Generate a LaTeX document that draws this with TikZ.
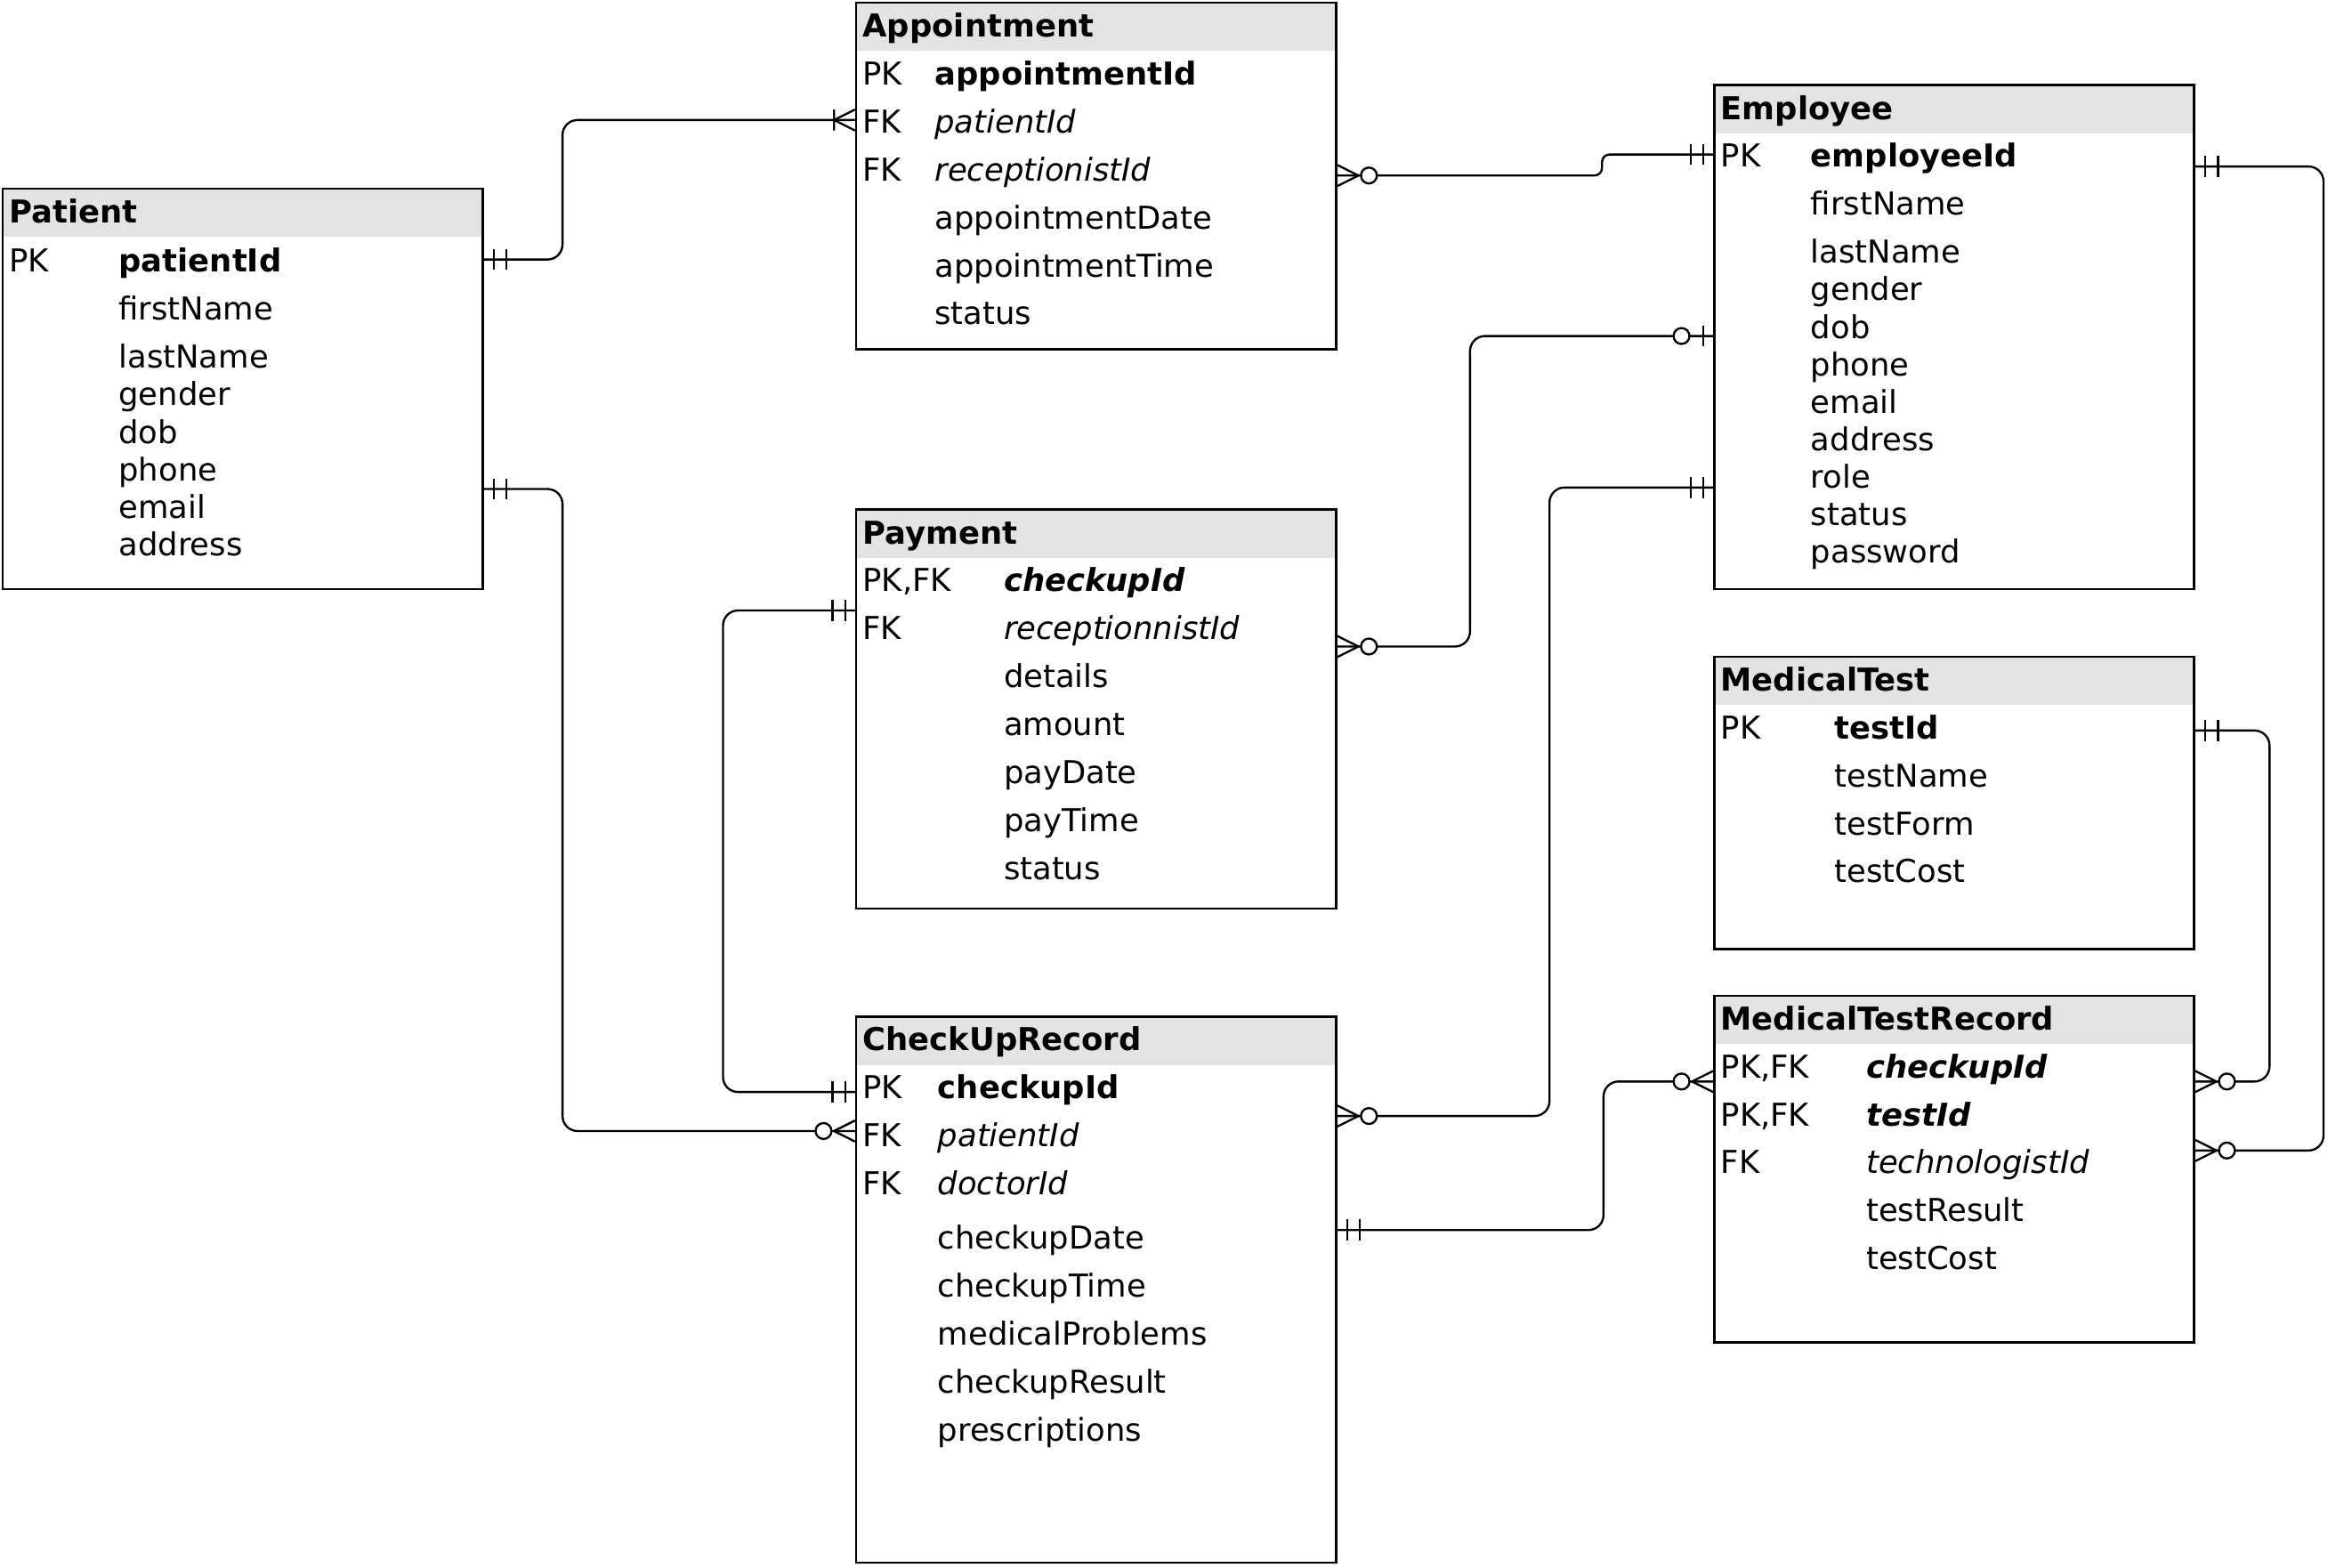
\documentclass[tikz,border=0pt]{standalone}
\usepackage{fontspec}
\setmainfont{DejaVu Sans}
\usetikzlibrary{calc}

\newcommand\erfont{\fontsize{21}{25}\selectfont}

\tikzset{
  tbl/.style={draw, line width=1.6pt, anchor=north west, minimum width=320pt, inner sep=0pt},
  hdr/.style={fill=black!11},
  ttl/.style={anchor=base west, inner sep=0pt, font=\erfont\bfseries},
  fld/.style={anchor=base west, inner sep=0pt, font=\erfont},
  rel/.style={line width=1.4pt, rounded corners=10pt},
  sym/.style={line width=1.4pt, sharp corners},
  pics/mone/.style={code={\draw[sym] (6.5,-7)--(6.5,7) (15,-7)--(15,7);}},
  pics/omany/.style={code={\draw[sym] (0,-7)--(14,0)--(0,7) (14,-7)--(14,7);}},
  pics/zmany/.style={code={\draw[sym] (0,-7)--(14,0)--(0,7); \draw[sym, fill=white] (21,0) circle (5.3pt);}},
  pics/zone/.style={code={\draw[sym] (6.5,-7)--(6.5,7); \draw[sym, fill=white] (21,0) circle (5.3pt);}}
}

\begin{document}
\begin{tikzpicture}[x=1pt, y=-1pt]
    \useasboundingbox (0,0) rectangle (1568,1045);

    % Patient
    \begin{scope}[shift={(1,125)}]
        \fill[hdr] (0,0) rectangle (320,33);
        \node[tbl, minimum height=267pt] (pat) at (0,0) {};
        \node[ttl] (pat-t) at (5,23.5) {Patient};
        \foreach \k/\f/\y [count=\i] in {PK/\textbf{patientId}/49, /firstName/81, /lastName/113,
            /gender/138, /dob/163, /phone/188, /email/213, /address/238} {
            \node[fld] (pat-k\i) at (5,\y+7.5) {\k};
            \node[fld] (pat-f\i) at (78,\y+7.5) {\f};
        }
    \end{scope}

    % Appointment
    \begin{scope}[shift={(570,1)}]
        \fill[hdr] (0,0) rectangle (320,33);
        \node[tbl, minimum height=231pt] (app) at (0,0) {};
        \node[ttl] (app-t) at (5,23.5) {Appointment};
        \foreach \k/\f/\y [count=\i] in {PK/\textbf{appointmentId}/48, FK/\textit{patientId}/80,
            FK/\textit{receptionistId}/112, /appointmentDate/144, /appointmentTime/176, /status/208} {
            \node[fld] (app-k\i) at (5,\y+7.5) {\k};
            \node[fld] (app-f\i) at (53,\y+7.5) {\f};
        }
    \end{scope}

    % Employee
    \begin{scope}[shift={(1142,56)}]
        \fill[hdr] (0,0) rectangle (320,33);
        \node[tbl, minimum height=336pt] (emp) at (0,0) {};
        \node[ttl] (emp-t) at (5,23.5) {Employee};
        \foreach \k/\f/\y [count=\i] in {PK/\textbf{employeeId}/48, /firstName/80, /lastName/112,
            /gender/137, /dob/162, /phone/187, /email/212, /address/237, /role/262,
            /status/287, /password/312} {
            \node[fld] (emp-k\i) at (5,\y+7.5) {\k};
            \node[fld] (emp-f\i) at (65,\y+7.5) {\f};
        }
    \end{scope}

    % Payment
    \begin{scope}[shift={(570,339)}]
        \fill[hdr] (0,0) rectangle (320,33);
        \node[tbl, minimum height=266pt] (pay) at (0,0) {};
        \node[ttl] (pay-t) at (5,23.5) {Payment};
        \foreach \k/\f/\y [count=\i] in {{PK,FK}/\textbf{\textit{checkupId}}/48,
            FK/\textit{receptionnistId}/80, /details/112, /amount/144, /payDate/176,
            /payTime/208, /status/240} {
            \node[fld] (pay-k\i) at (5,\y+7.5) {\k};
            \node[fld] (pay-f\i) at (99,\y+7.5) {\f};
        }
    \end{scope}

    % MedicalTest
    \begin{scope}[shift={(1142,437)}]
        \fill[hdr] (0,0) rectangle (320,33);
        \node[tbl, minimum height=195pt] (mt) at (0,0) {};
        \node[ttl] (mt-t) at (5,23.5) {MedicalTest};
        \foreach \k/\f/\y [count=\i] in {PK/\textbf{testId}/48, /testName/80, /testForm/112,
            /testCost/144} {
            \node[fld] (mt-k\i) at (5,\y+7.5) {\k};
            \node[fld] (mt-f\i) at (81,\y+7.5) {\f};
        }
    \end{scope}

    % CheckUpRecord
    \begin{scope}[shift={(570,677)}]
        \fill[hdr] (0,0) rectangle (320,33);
        \node[tbl, minimum height=364pt] (chk) at (0,0) {};
        \node[ttl] (chk-t) at (5,23.5) {CheckUpRecord};
        \foreach \k/\f/\y [count=\i] in {PK/\textbf{checkupId}/48, FK/\textit{patientId}/80,
            FK/\textit{doctorId}/112, /checkupDate/148, /checkupTime/180,
            /medicalProblems/212, /checkupResult/244, /prescriptions/276} {
            \node[fld] (chk-k\i) at (5,\y+7.5) {\k};
            \node[fld] (chk-f\i) at (55,\y+7.5) {\f};
        }
    \end{scope}

    % MedicalTestRecord
    \begin{scope}[shift={(1142,663)}]
        \fill[hdr] (0,0) rectangle (320,33);
        \node[tbl, minimum height=231pt] (mtr) at (0,0) {};
        \node[ttl] (mtr-t) at (5,23.5) {MedicalTestRecord};
        \foreach \k/\f/\y [count=\i] in {{PK,FK}/\textbf{\textit{checkupId}}/48,
            {PK,FK}/\textbf{\textit{testId}}/80, FK/\textit{technologistId}/112,
            /testResult/144, /testCost/176} {
            \node[fld] (mtr-k\i) at (5,\y+7.5) {\k};
            \node[fld] (mtr-f\i) at (102,\y+7.5) {\f};
        }
    \end{scope}

    % Relationships
    \draw[rel] (pat.east |- 0,173) pic{mone} -| (375,80) -- (app.west |- 0,80) pic[xscale=-1]{omany};
    \draw[rel] (pat.east |- 0,326) pic{mone} -| (375,754) -- (chk.west |- 0,754) pic[xscale=-1]{zmany};
    \draw[rel, rounded corners=5pt] (app.east |- 0,117) pic{zmany} -| (1068,103) -- (emp.west |- 0,103) pic[xscale=-1]{mone};
    \draw[rel] (emp.west |- 0,224) pic[xscale=-1]{zone} -| (980,431) -- (pay.east |- 0,431) pic{zmany};
    \draw[rel] (emp.west |- 0,325) pic[xscale=-1]{mone} -| (1033,744) -- (chk.east |- 0,744) pic{zmany};
    \draw[rel] (pay.west |- 0,407) pic[xscale=-1]{mone} -| (482,728) -- (chk.west |- 0,728) pic[xscale=-1]{mone};
    \draw[rel] (chk.east |- 0,820) pic{mone} -| (1069,721) -- (mtr.west |- 0,721) pic[xscale=-1]{zmany};
    \draw[rel] (mt.east |- 0,487) pic{mone} -| (1513,721) -- (mtr.east |- 0,721) pic{zmany};
    \draw[rel] (emp.east |- 0,111) pic{mone} -| (1549,767) -- (mtr.east |- 0,767) pic{zmany};
\end{tikzpicture}
\end{document}
